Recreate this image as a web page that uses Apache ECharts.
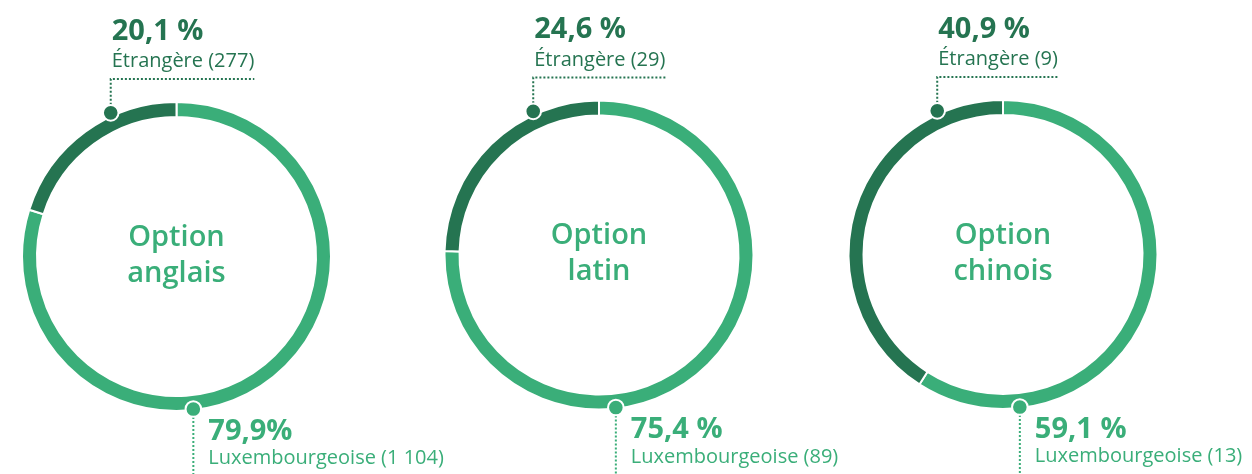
<!DOCTYPE html>
<html lang="fr">
<head>
<meta charset="utf-8">
<title>Nationalité des élèves par option</title>
<script src="https://cdn.jsdelivr.net/npm/echarts@6/dist/echarts.min.js"></script>
<style>
  html, body { margin: 0; padding: 0; background: #ffffff; }
  #chart { width: 1252px; height: 474px; }
</style>
</head>
<body>
<div id="chart"></div>
<script>
// Répartition des élèves par nationalité, pour chaque option de langue
const optionNames = ['Option\nanglais', 'Option\nlatin', 'Option\nchinois'];
const luxPct = [79.9, 75.4, 59.1];          // Luxembourgeoise, %
const etrPct = [20.1, 24.6, 40.9];          // Étrangère, %
const luxCount = ['1 104', '89', '13'];
const etrCount = ['277', '29', '9'];
const luxPctSep = ['', ' ', ' '];           // espace avant le signe %
const etrPctSep = [' ', ' ', ' '];

const LIGHT = '#3aae79';
const DARK = '#257451';
const FONT = '"Open Sans", "Noto Sans", sans-serif';
const PCT_FONT = '700 29px ' + FONT;
const LBL_FONT = '400 20px ' + FONT;

// Disposition des anneaux
const centers = [[176.5, 256.5], [599, 255], [1003, 254.5]];
const R_IN = 139.5, R_OUT = 154.5;

const fmtPct = (v, sep) => v.toFixed(1).replace('.', ',') + sep + '%';

const measure = (() => {
  const ctx = document.createElement('canvas').getContext('2d');
  return (text, font) => { ctx.font = font; return ctx.measureText(text).width; };
})();

const chart = echarts.init(document.getElementById('chart'), null, { renderer: 'canvas' });

const series = [];
const graphic = [];

centers.forEach((c, i) => {
  const [cx, cy] = c;
  series.push({
    type: 'pie',
    center: [cx, cy],
    radius: [R_IN, R_OUT],
    startAngle: 90,
    clockwise: true,
    silent: true,
    animation: false,
    label: { show: false },
    labelLine: { show: false },
    itemStyle: { borderColor: '#ffffff', borderWidth: 2 },
    data: [
      { name: 'Luxembourgeoise', value: luxPct[i], itemStyle: { color: LIGHT } },
      { name: 'Étrangère', value: etrPct[i], itemStyle: { color: DARK } }
    ]
  });

  // Titre au centre de l'anneau
  graphic.push({
    type: 'text', x: cx, y: cy - 1, silent: true, z: 100,
    style: {
      text: optionNames[i], fill: LIGHT, align: 'center', verticalAlign: 'middle',
      font: '600 29px ' + FONT, lineHeight: 36
    }
  });

  // Repère « Étrangère » en haut à gauche
  const aTop = 24.6 * Math.PI / 180, rTop = 158;
  const tx = cx - rTop * Math.sin(aTop), ty = cy - rTop * Math.cos(aTop);
  const etrLabel = 'Étrangère (' + etrCount[i] + ')';
  const etrW = measure(etrLabel, LBL_FONT);
  const lineY = cy - 177.5;
  graphic.push({
    type: 'polyline', silent: true, z: 100,
    shape: { points: [[tx, ty - 8], [tx, lineY], [tx + etrW + 1, lineY]] },
    style: { stroke: DARK, lineWidth: 2, lineDash: [2, 2], fill: null }
  });
  graphic.push({
    type: 'circle', silent: true, z: 101,
    shape: { cx: tx, cy: ty, r: 7.8 },
    style: { fill: DARK, stroke: '#ffffff', lineWidth: 2 }
  });
  graphic.push({
    type: 'text', x: tx + 1, y: cy - 225, silent: true, z: 100,
    style: { text: fmtPct(etrPct[i], etrPctSep[i]), fill: DARK, font: PCT_FONT, verticalAlign: 'middle' }
  });
  graphic.push({
    type: 'text', x: tx + 1, y: cy - 195, silent: true, z: 100,
    style: { text: etrLabel, fill: DARK, font: LBL_FONT, verticalAlign: 'middle' }
  });

  // Repère « Luxembourgeoise » en bas
  const aBot = 6.3 * Math.PI / 180, rBot = 153.5;
  const bx = cx + rBot * Math.sin(aBot), by = cy + rBot * Math.cos(aBot);
  graphic.push({
    type: 'polyline', silent: true, z: 100,
    shape: { points: [[bx, by + 8], [bx, 474]] },
    style: { stroke: LIGHT, lineWidth: 2, lineDash: [2, 2], fill: null }
  });
  graphic.push({
    type: 'circle', silent: true, z: 101,
    shape: { cx: bx, cy: by, r: 7.8 },
    style: { fill: LIGHT, stroke: '#ffffff', lineWidth: 2 }
  });
  graphic.push({
    type: 'text', x: bx + 15, y: cy + 175, silent: true, z: 100,
    style: { text: fmtPct(luxPct[i], luxPctSep[i]), fill: LIGHT, font: PCT_FONT, verticalAlign: 'middle' }
  });
  graphic.push({
    type: 'text', x: bx + 15, y: cy + 202, silent: true, z: 100,
    style: { text: 'Luxembourgeoise (' + luxCount[i] + ')', fill: LIGHT, font: LBL_FONT, verticalAlign: 'middle' }
  });
});

chart.setOption({
  animation: false,
  backgroundColor: '#ffffff',
  series: series,
  graphic: graphic
});
</script>
</body>
</html>
